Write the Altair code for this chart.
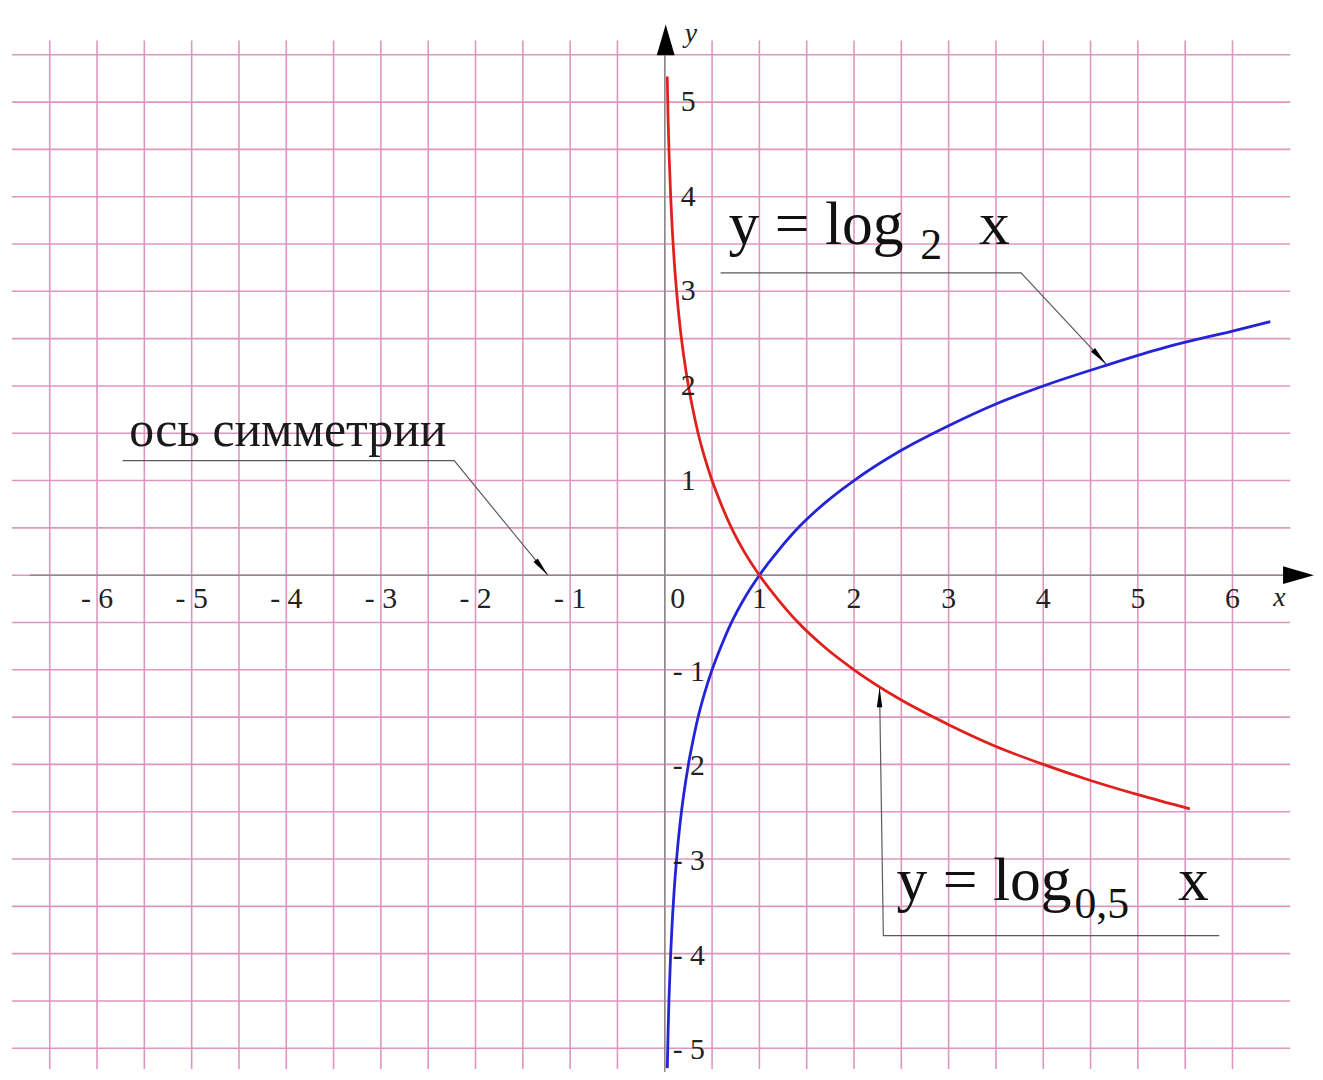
import altair as alt
import pandas as pd

# ---------------- data ----------------
grid_x = [-6.5, -6.0, -5.5, -5.0, -4.5, -4.0, -3.5, -3.0, -2.5, -2.0, -1.5, -1.0, -0.5,
          0.0, 0.5, 1.0, 1.5, 2.0, 2.5, 3.0, 3.5, 4.0, 4.5, 5.0, 5.5, 6.0]
grid_y = [-5.0, -4.5, -4.0, -3.5, -3.0, -2.5, -2.0, -1.5, -1.0, -0.5, 0.0,
          0.5, 1.0, 1.5, 2.0, 2.5, 3.0, 3.5, 4.0, 4.5, 5.0, 5.5]

x_tick_vals = [-6, -5, -4, -3, -2, -1, 1, 2, 3, 4, 5, 6]
x_tick_text = ["- 6", "- 5", "- 4", "- 3", "- 2", "- 1", "1", "2", "3", "4", "5", "6"]
y_pos_vals = [1, 2, 3, 4, 5]
y_pos_text = ["1", "2", "3", "4", "5"]
y_neg_vals = [-1, -2, -3, -4, -5]
y_neg_text = ["- 1", "- 2", "- 3", "- 4", "- 5"]

# y = log2 x (blue)
blue_x = [0.027, 0.035, 0.045, 0.0625, 0.08, 0.1, 0.125, 0.16, 0.2, 0.25, 0.3, 0.35, 0.42,
          0.5, 0.6, 0.7, 0.85, 1.0, 1.2, 1.4, 1.7, 2.0, 2.5, 3.0, 3.5, 4.0, 4.67, 5.3, 6.0, 6.4]
blue_y = [-5.21, -4.84, -4.47, -4.0, -3.64, -3.32, -3.0, -2.64, -2.32, -2.0, -1.74, -1.51, -1.25,
          -1.0, -0.74, -0.51, -0.23, 0.0, 0.26, 0.49, 0.77, 1.0, 1.32, 1.58, 1.81, 2.0, 2.22, 2.41, 2.58, 2.68]

# y = log0.5 x (red)
red_x = [0.026, 0.035, 0.045, 0.0625, 0.08, 0.1, 0.125, 0.16, 0.2, 0.25, 0.3, 0.35, 0.42,
         0.5, 0.6, 0.7, 0.85, 1.0, 1.2, 1.4, 1.7, 2.0, 2.5, 3.0, 3.5, 4.0, 4.5, 5.0, 5.55]
red_y = [5.27, 4.84, 4.47, 4.0, 3.64, 3.32, 3.0, 2.64, 2.32, 2.0, 1.74, 1.51, 1.25,
         1.0, 0.74, 0.51, 0.23, 0.0, -0.26, -0.49, -0.77, -1.0, -1.32, -1.58, -1.81, -2.0, -2.17, -2.32, -2.47]

# annotation leaders (x, y in data units)
lead_sym_x = [-5.73, -2.225, -1.235]
lead_sym_y = [1.21, 1.21, 0.0]
lead_l2_x = [0.59, 3.765, 4.665]
lead_l2_y = [3.196, 3.196, 2.23]
lead_l05_x = [2.27, 2.31, 5.86]
lead_l05_y = [-1.19, -3.81, -3.81]

# ---------------- styling ----------------
GRID = "#de96bf"
AXIS = "#8a8a8a"
BLUE = "#2323d8"
RED = "#e0201c"
SERIF = "Liberation Serif"

X_DOMAIN = [-6.941, 6.872]
Y_DOMAIN = [-5.301, 5.960]
xs = alt.Scale(domain=X_DOMAIN, nice=False, zero=False)
ys = alt.Scale(domain=Y_DOMAIN, nice=False, zero=False)


def X(f):
    return alt.X(f, type="quantitative", scale=xs, axis=None)


def Y(f):
    return alt.Y(f, type="quantitative", scale=ys, axis=None)


ARROW = "M0,0L0.29,1L-0.29,1Z"       # tip at origin
SMALL_ARROW = "M0,0L0.28,2L-0.28,2Z"  # tip at origin

# grid
vgrid = alt.Chart(pd.DataFrame({"x": grid_x, "y1": [-5.22] * len(grid_x), "y2": [5.65] * len(grid_x)})) \
    .mark_rule(color=GRID, strokeWidth=1.6).encode(x=X("x"), y=Y("y1"), y2="y2")
hgrid = alt.Chart(pd.DataFrame({"y": grid_y, "x1": [-6.9] * len(grid_y), "x2": [6.61] * len(grid_y)})) \
    .mark_rule(color=GRID, strokeWidth=1.6).encode(y=Y("y"), x=X("x1"), x2="x2")

# axes
xaxis = alt.Chart(pd.DataFrame({"x1": [-6.71], "x2": [6.55], "y": [0.0]})) \
    .mark_rule(color=AXIS, strokeWidth=1.5).encode(x=X("x1"), x2="x2", y=Y("y"))
yaxis = alt.Chart(pd.DataFrame({"y1": [-5.25], "y2": [5.5], "x": [0.0]})) \
    .mark_rule(color=AXIS, strokeWidth=1.5).encode(y=Y("y1"), y2="y2", x=X("x"))
axis_arrows = alt.Chart(pd.DataFrame({"x": [0.01, 6.86], "y": [5.82, 0.0], "a": [0, 90]})) \
    .mark_point(shape=ARROW, filled=True, color="black", opacity=1, size=3844, strokeWidth=0) \
    .encode(x=X("x"), y=Y("y"), angle=alt.Angle("a:Q", scale=None))

# curves
blue = alt.Chart(pd.DataFrame({"x": blue_x, "y": blue_y})) \
    .mark_line(color=BLUE, strokeWidth=2.8, interpolate="monotone").encode(x=X("x"), y=Y("y"))
red = alt.Chart(pd.DataFrame({"x": red_x, "y": red_y})) \
    .mark_line(color=RED, strokeWidth=2.8, interpolate="monotone").encode(x=X("x"), y=Y("y"))

# leaders
rows = []
for g, (lx, ly) in enumerate([(lead_sym_x, lead_sym_y), (lead_l2_x, lead_l2_y), (lead_l05_x, lead_l05_y)]):
    for i, (a, b) in enumerate(zip(lx, ly)):
        rows.append({"g": g, "o": i, "x": a, "y": b})
leaders = alt.Chart(pd.DataFrame(rows)) \
    .mark_line(color="#5a5a5a", strokeWidth=1.2) \
    .encode(x=X("x"), y=Y("y"), order="o:Q", detail="g:N")
lead_arrows = alt.Chart(pd.DataFrame({"x": [lead_sym_x[-1], lead_l2_x[-1], lead_l05_x[0]],
                                      "y": [lead_sym_y[-1], lead_l2_y[-1], lead_l05_y[0]],
                                      "a": [140.7, 137.2, 0]})) \
    .mark_point(shape=SMALL_ARROW, filled=True, color="black", opacity=1, size=380, strokeWidth=0) \
    .encode(x=X("x"), y=Y("y"), angle=alt.Angle("a:Q", scale=None))

# tick labels
xt = alt.Chart(pd.DataFrame({"x": x_tick_vals, "y": [0.0] * len(x_tick_vals), "t": x_tick_text})) \
    .mark_text(font=SERIF, fontSize=30, align="center", baseline="middle", dy=24, color="#222") \
    .encode(x=X("x"), y=Y("y"), text="t:N")
zero = alt.Chart(pd.DataFrame({"x": [0.0], "y": [0.0], "t": ["0"]})) \
    .mark_text(font=SERIF, fontSize=30, align="center", baseline="middle", dx=13, dy=24, color="#222") \
    .encode(x=X("x"), y=Y("y"), text="t:N")
ytp = alt.Chart(pd.DataFrame({"y": y_pos_vals, "x": [0.0] * 5, "t": y_pos_text})) \
    .mark_text(font=SERIF, fontSize=30, align="left", baseline="middle", dx=16, color="#222") \
    .encode(x=X("x"), y=Y("y"), text="t:N")
ytn = alt.Chart(pd.DataFrame({"y": y_neg_vals, "x": [0.0] * 5, "t": y_neg_text})) \
    .mark_text(font=SERIF, fontSize=30, align="left", baseline="middle", dx=8, dy=2, color="#222") \
    .encode(x=X("x"), y=Y("y"), text="t:N")
axis_names = alt.Chart(pd.DataFrame({"x": [0.276, 6.496], "y": [5.717, -0.238], "t": ["y", "x"]})) \
    .mark_text(font=SERIF, fontSize=28, fontStyle="italic", align="center", baseline="middle", color="#222") \
    .encode(x=X("x"), y=Y("y"), text="t:N")

# annotation texts
sym_text = alt.Chart(pd.DataFrame({"x": [-5.66], "y": [1.369], "t": ["ось симметрии"]})) \
    .mark_text(font=SERIF, fontSize=50, align="left", baseline="alphabetic", color="#1a1a1a") \
    .encode(x=X("x"), y=Y("y"), text="t:N")
big = alt.Chart(pd.DataFrame({"x": [0.674, 3.32, 2.45, 5.423],
                              "y": [3.50, 3.50, -3.43, -3.43],
                              "t": ["y = log", "x", "y = log", "x"]})) \
    .mark_text(font=SERIF, fontSize=62, align="left", baseline="alphabetic", color="#111") \
    .encode(x=X("x"), y=Y("y"), text="t:N")
subs = alt.Chart(pd.DataFrame({"x": [2.70, 4.33], "y": [3.34, -3.62], "t": ["2", "0,5"]})) \
    .mark_text(font=SERIF, fontSize=44, align="left", baseline="alphabetic", color="#111") \
    .encode(x=X("x"), y=Y("y"), text="t:N")

chart = alt.layer(
    vgrid, hgrid, xaxis, yaxis, blue, red, leaders, lead_arrows, axis_arrows,
    xt, zero, ytp, ytn, axis_names, sym_text, big, subs
).properties(
    width=1315, height=1072, padding=0, autosize="none", background="white"
).configure_view(stroke=None)

chart.save("out.html", embed_options={"renderer": "svg", "actions": False})
